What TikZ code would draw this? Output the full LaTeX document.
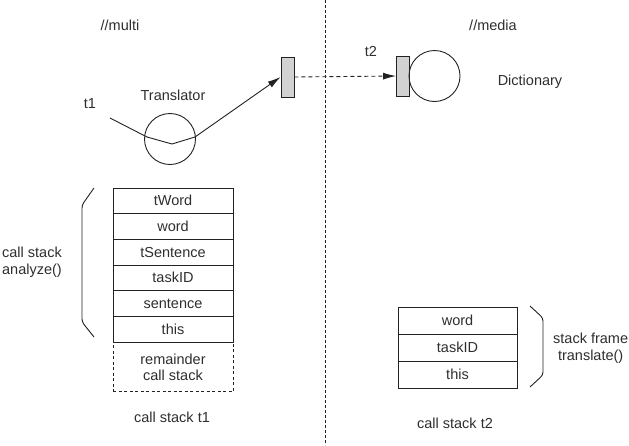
\documentclass[tikz,border=0pt]{standalone}
\usepackage{fontspec}
\setmainfont{Liberation Sans}
\usetikzlibrary{arrows.meta}
\definecolor{ink}{HTML}{222222}
\definecolor{txt}{HTML}{2E2E2E}
\definecolor{portfill}{HTML}{D2D2D2}
\begin{document}
\begin{tikzpicture}[x=1pt,y=-1pt,
  every node/.style={font=\fontsize{14.5}{17}\selectfont, text=txt},
  line/.style={draw=ink, line width=0.9pt},
  cell/.style={line, rectangle, minimum width=120pt, minimum height=25.67pt, inner sep=0pt},
  rcell/.style={line, rectangle, minimum width=119pt, minimum height=27pt, inner sep=0pt},
  port/.style={line, rectangle, fill=portfill, minimum width=13pt, minimum height=40pt, inner sep=0pt},
  agent/.style={line, circle, minimum size=51pt, inner sep=0pt},
  tip/.style={-{Latex[length=13pt,width=7pt]}},
  lbl/.style={align=center, inner sep=0pt}
]
\useasboundingbox (0,0) rectangle (629,445);

% separator between the two nodes
\draw[line, line width=0.8pt, dash pattern=on 2.5pt off 2.5pt] (325,0) -- (325,445);

\node[lbl] (multi) at (120,25) {//multi};
\node[lbl] (media) at (493,25) {//media};

% translator agent on //multi
\node[lbl] (t1) at (90,104) {t1};
\node[lbl] (translbl) at (173,95) {Translator};
\node[agent] (trans) at (170,139) {};
\node[port] (p1) at (287.5,77) {};
\coordinate (t1start) at (110,118);
\coordinate (tin) at (147,137);
\coordinate (tlow) at (172,144);
\coordinate (tout) at (195,137);
\draw[line, tip] (t1start) -- (tin) -- (tlow) -- (tout) -- (p1.west);

% dictionary agent on //media
\node[lbl] (t2) at (371,51) {t2};
\node[port] (p2) at (403,76) {};
\node[agent] (dict) at (434.5,76) {};
\node[lbl] (dictlbl) at (530,82) {Dictionary};
\draw[line, tip, dash pattern=on 4pt off 3pt] (p1.east) -- (p2.west);

% call stack of t1
\node[cell] (a1) at (173,200.8) {tWord};
\node[cell] (a2) at (173,226.5) {word};
\node[cell] (a3) at (173,252.2) {tSentence};
\node[cell] (a4) at (173,277.8) {taskID};
\node[cell] (a5) at (173,303.5) {sentence};
\node[cell] (a6) at (173,329.2) {this};
\node[line, dashed, dash pattern=on 3pt off 2.5pt, rectangle, minimum width=120pt, minimum height=49pt, inner sep=0pt, align=center,
      anchor=north] (rest) at (a6.south) {remainder\\[-1pt]call stack};
\node[lbl] (cs1) at (172,417) {call stack t1};

\coordinate (lb1) at (94,188);
\coordinate (lb2) at (82,205);
\coordinate (lb3) at (82,322);
\coordinate (lb4) at (94,337);
\draw[line, rounded corners=3pt] (lb1) -- (lb2) -- (lb3) -- (lb4);
\node[lbl] (analyze) at (32,262) {call stack\\analyze()};

% call stack of t2
\node[rcell] (b1) at (457.5,320.5) {word};
\node[rcell] (b2) at (457.5,347.5) {taskID};
\node[rcell] (b3) at (457.5,374.5) {this};
\node[lbl] (cs2) at (455,423) {call stack t2};

\coordinate (rb1) at (530,306);
\coordinate (rb2) at (543,318);
\coordinate (rb3) at (543,375);
\coordinate (rb4) at (530,387);
\draw[line, rounded corners=3pt] (rb1) -- (rb2) -- (rb3) -- (rb4);
\node[lbl, anchor=west] (frame) at (553,348) {stack frame\\translate()};
\end{tikzpicture}
\end{document}
